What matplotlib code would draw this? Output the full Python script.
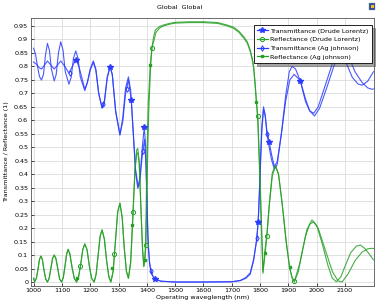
import matplotlib
matplotlib.use('Agg')
import matplotlib.pyplot as plt
from matplotlib.patches import Rectangle

# transmittance, Drude Lorentz
wl_t_dl = [1000, 1010, 1020, 1028, 1038, 1049, 1060, 1073, 1085, 1096, 1110, 1125, 1137, 1149,
           1160, 1170, 1181, 1190, 1200, 1211, 1220, 1230, 1242, 1250, 1260, 1270, 1278, 1290,
           1305, 1315, 1325, 1335, 1345, 1352, 1360, 1369, 1376, 1383, 1391, 1396, 1400, 1404,
           1409, 1414, 1420, 1430, 1450, 1500, 1600, 1700, 1730, 1750, 1765, 1777, 1787, 1793,
           1800, 1806, 1812, 1818, 1824, 1832, 1840, 1850, 1860, 1875, 1890, 1905, 1920, 1935,
           1942, 1960, 1975, 1992, 2010, 2035, 2060, 2080, 2098, 2115, 2135, 2160, 2180, 2195, 2200]
t_dl = [0.816, 0.808, 0.795, 0.790, 0.803, 0.820, 0.806, 0.790, 0.805, 0.820, 0.800, 0.775, 0.800, 0.825,
        0.800, 0.760, 0.715, 0.740, 0.785, 0.815, 0.785, 0.700, 0.645, 0.665, 0.755, 0.798, 0.770, 0.635,
        0.548, 0.595, 0.700, 0.750, 0.675, 0.550, 0.420, 0.355, 0.390, 0.490, 0.576, 0.500, 0.330, 0.170,
        0.080, 0.045, 0.025, 0.011, 0.004, 0.001, 0.001, 0.002, 0.006, 0.015, 0.030, 0.080, 0.155, 0.224,
        0.400, 0.560, 0.640, 0.615, 0.560, 0.521, 0.475, 0.430, 0.445, 0.550, 0.670, 0.750, 0.770, 0.755,
        0.746, 0.680, 0.635, 0.616, 0.645, 0.720, 0.800, 0.845, 0.855, 0.830, 0.780, 0.740, 0.720, 0.715, 0.716]

# transmittance, Ag johnson
wl_t_aj = [1000, 1007, 1014, 1021, 1028, 1035, 1042, 1049, 1056, 1063, 1073, 1080, 1088, 1096,
           1104, 1112, 1125, 1133, 1141, 1149, 1157, 1165, 1181, 1190, 1200, 1211, 1220, 1230,
           1242, 1250, 1260, 1270, 1278, 1290, 1305, 1315, 1325, 1335, 1343, 1352, 1360, 1368,
           1375, 1381, 1386, 1392, 1397, 1401, 1405, 1410, 1414, 1420, 1430, 1450, 1500, 1600,
           1700, 1730, 1750, 1765, 1777, 1789, 1795, 1800, 1806, 1812, 1818, 1824, 1832, 1840,
           1850, 1860, 1875, 1890, 1903, 1913, 1925, 1942, 1960, 1975, 1989, 2005, 2030, 2055,
           2075, 2088, 2105, 2125, 2145, 2160, 2180, 2200]
t_aj = [0.867, 0.845, 0.800, 0.762, 0.749, 0.770, 0.840, 0.885, 0.860, 0.790, 0.746, 0.770, 0.850, 0.891,
        0.860, 0.780, 0.734, 0.760, 0.830, 0.857, 0.830, 0.760, 0.710, 0.740, 0.790, 0.820, 0.790, 0.700,
        0.646, 0.670, 0.760, 0.800, 0.770, 0.630, 0.545, 0.610, 0.720, 0.761, 0.710, 0.560, 0.410, 0.348,
        0.370, 0.440, 0.487, 0.530, 0.430, 0.260, 0.130, 0.065, 0.043, 0.025, 0.012, 0.004, 0.001, 0.001,
        0.002, 0.007, 0.018, 0.035, 0.085, 0.163, 0.260, 0.420, 0.580, 0.650, 0.620, 0.549, 0.500, 0.455,
        0.420, 0.435, 0.550, 0.690, 0.780, 0.800, 0.790, 0.745, 0.670, 0.635, 0.626, 0.650, 0.730, 0.810,
        0.845, 0.850, 0.810, 0.760, 0.735, 0.730, 0.745, 0.780]

# reflectance, Drude Lorentz
wl_r_dl = [1000, 1004, 1010, 1016, 1021, 1026, 1031, 1037, 1043, 1049, 1055, 1061, 1067, 1073,
           1079, 1086, 1092, 1099, 1105, 1111, 1117, 1122, 1128, 1136, 1144, 1152, 1159, 1167,
           1174, 1181, 1189, 1197, 1205, 1214, 1221, 1228, 1235, 1242, 1250, 1258, 1266, 1273,
           1281, 1289, 1297, 1305, 1313, 1320, 1328, 1335, 1343, 1351, 1358, 1364, 1368, 1373,
           1380, 1385, 1390, 1394, 1397, 1400, 1403, 1407, 1413, 1418, 1425, 1432, 1445, 1460,
           1480, 1500, 1550, 1600, 1650, 1683, 1706, 1725, 1742, 1755, 1765, 1772, 1777, 1782,
           1787, 1792, 1800, 1806, 1810, 1816, 1824, 1833, 1843, 1854, 1865, 1878, 1892, 1904,
           1913, 1921, 1940, 1960, 1975, 1989, 2005, 2030, 2055, 2075, 2089, 2110, 2135, 2160,
           2180, 2195, 2200]
r_dl = [0.015, 0.002, 0.015, 0.050, 0.085, 0.097, 0.085, 0.045, 0.012, 0.001, 0.014, 0.050, 0.088, 0.101,
        0.088, 0.048, 0.012, 0.001, 0.017, 0.060, 0.105, 0.122, 0.106, 0.055, 0.014, 0.001, 0.020, 0.070,
        0.122, 0.142, 0.120, 0.060, 0.015, 0.001, 0.030, 0.100, 0.170, 0.194, 0.160, 0.080, 0.020, 0.001,
        0.040, 0.150, 0.260, 0.293, 0.240, 0.130, 0.040, 0.015, 0.080, 0.262, 0.410, 0.475, 0.480, 0.440,
        0.250, 0.120, 0.060, 0.090, 0.138, 0.290, 0.480, 0.640, 0.790, 0.869, 0.895, 0.925, 0.942, 0.950,
        0.956, 0.960, 0.962, 0.962, 0.959, 0.950, 0.941, 0.926, 0.905, 0.885, 0.855, 0.825, 0.795, 0.735,
        0.665, 0.615, 0.380, 0.180, 0.040, 0.090, 0.173, 0.290, 0.395, 0.430, 0.400, 0.290, 0.150, 0.055,
        0.018, 0.004, 0.070, 0.170, 0.215, 0.224, 0.200, 0.120, 0.040, 0.005, 0.001, 0.030, 0.080, 0.112,
        0.124, 0.126, 0.125]

# reflectance, Ag johnson
wl_r_aj = [1000, 1004, 1010, 1016, 1021, 1026, 1031, 1037, 1043, 1049, 1055, 1061, 1067, 1073,
           1079, 1086, 1092, 1099, 1105, 1111, 1117, 1122, 1128, 1136, 1144, 1152, 1159, 1167,
           1174, 1181, 1189, 1197, 1205, 1214, 1221, 1228, 1235, 1242, 1250, 1258, 1266, 1273,
           1281, 1289, 1297, 1305, 1313, 1320, 1328, 1335, 1343, 1351, 1358, 1364, 1368, 1373,
           1380, 1385, 1389, 1392, 1395, 1398, 1401, 1405, 1412, 1418, 1424, 1430, 1445, 1459,
           1480, 1500, 1550, 1600, 1650, 1683, 1706, 1725, 1742, 1755, 1765, 1772, 1777, 1782,
           1787, 1792, 1800, 1806, 1810, 1816, 1824, 1833, 1843, 1854, 1865, 1878, 1892, 1904,
           1913, 1921, 1935, 1950, 1965, 1983, 2000, 2020, 2040, 2055, 2069, 2085, 2100, 2120,
           2140, 2154, 2170, 2185, 2200]
r_aj = [0.015, 0.002, 0.015, 0.050, 0.085, 0.097, 0.085, 0.045, 0.012, 0.001, 0.014, 0.050, 0.088, 0.101,
        0.088, 0.048, 0.012, 0.001, 0.017, 0.060, 0.105, 0.122, 0.106, 0.055, 0.014, 0.001, 0.020, 0.070,
        0.122, 0.142, 0.120, 0.060, 0.015, 0.001, 0.030, 0.100, 0.170, 0.194, 0.160, 0.080, 0.020, 0.001,
        0.040, 0.150, 0.260, 0.293, 0.240, 0.130, 0.040, 0.015, 0.070, 0.240, 0.420, 0.490, 0.496, 0.450,
        0.250, 0.120, 0.058, 0.083, 0.138, 0.300, 0.500, 0.660, 0.806, 0.869, 0.910, 0.934, 0.948, 0.953,
        0.959, 0.963, 0.965, 0.965, 0.962, 0.953, 0.945, 0.930, 0.910, 0.890, 0.860, 0.830, 0.800, 0.740,
        0.669, 0.590, 0.350, 0.150, 0.033, 0.110, 0.180, 0.300, 0.405, 0.434, 0.400, 0.290, 0.150, 0.055,
        0.015, 0.002, 0.040, 0.120, 0.195, 0.231, 0.210, 0.140, 0.060, 0.015, 0.002, 0.020, 0.060, 0.110,
        0.134, 0.138, 0.125, 0.105, 0.083]

# marker positions (COMSOL draws a marker every few solution points)
mk_t_dl_x = [1149, 1270, 1345, 1391, 1430, 1793, 1832, 1942]
mk_t_dl_y = [0.825, 0.798, 0.675, 0.576, 0.011, 0.224, 0.521, 0.746]
mk_t_aj_x = [1128, 1246, 1330, 1386, 1414, 1789, 1824]
mk_t_aj_y = [0.777, 0.660, 0.716, 0.487, 0.043, 0.163, 0.549]
mk_r_dl_x = [1164, 1285, 1351, 1397, 1418, 1792, 1824, 1921]
mk_r_dl_y = [0.060, 0.105, 0.262, 0.138, 0.869, 0.615, 0.173, 0.004]
mk_r_aj_x = [1155, 1278, 1347, 1392, 1412, 1787, 1816, 1904]
mk_r_aj_y = [0.015, 0.052, 0.212, 0.083, 0.806, 0.669, 0.110, 0.055]

xticks = list(range(1000, 2101, 100))
yticks = [i * 0.05 for i in range(20)]
ytick_labels = ['0', '0.05', '0.1', '0.15', '0.2', '0.25', '0.3', '0.35', '0.4', '0.45',
                '0.5', '0.55', '0.6', '0.65', '0.7', '0.75', '0.8', '0.85', '0.9', '0.95']

blue = '#2b3cff'
green = '#25a025'
fs = 4.6

fig = plt.figure(figsize=(3.78, 3.0), dpi=100)
ax = fig.add_axes([0.082, 0.0477, 0.9074, 0.8923])

ax.plot(wl_t_dl, t_dl, color=blue, lw=0.8, alpha=0.85)
ax.plot(wl_r_dl, r_dl, color=green, lw=0.8, alpha=0.85)
ax.plot(wl_t_aj, t_aj, color=blue, lw=0.8, alpha=0.85)
ax.plot(wl_r_aj, r_aj, color=green, lw=0.8, alpha=0.85)

ax.plot(mk_t_dl_x, mk_t_dl_y, ls='none', marker='*', ms=4.0, color=blue)
ax.plot(mk_r_dl_x, mk_r_dl_y, ls='none', marker='o', ms=3.0, mfc='none', mec=green, mew=0.7)
ax.plot(mk_t_aj_x, mk_t_aj_y, ls='none', marker='d', ms=2.8, mfc='none', mec=blue, mew=0.7)
ax.plot(mk_r_aj_x, mk_r_aj_y, ls='none', marker='s', ms=1.7, color=green)

# legend handles
h1, = ax.plot([], [], color=blue, lw=0.9, marker='*', ms=4.0)
h2, = ax.plot([], [], color=green, lw=0.9, marker='o', ms=3.0, mfc='none', mew=0.7)
h3, = ax.plot([], [], color=blue, lw=0.9, marker='d', ms=2.8, mfc='none', mew=0.7)
h4, = ax.plot([], [], color=green, lw=0.9, marker='s', ms=1.7)
leg = ax.legend([h1, h2, h3, h4],
                ['Transmittance (Drude Lorentz)', 'Reflectance (Drude Lorentz)',
                 'Transmittance (Ag johnson)', 'Reflectance (Ag johnson)'],
                loc='upper right', bbox_to_anchor=(0.994, 0.974), fontsize=fs,
                fancybox=False, shadow=True, framealpha=1, edgecolor='black',
                handlelength=1.7, handletextpad=0.4, labelspacing=0.5, borderpad=0.5,
                borderaxespad=0)
leg.get_frame().set_linewidth(0.6)

ax.set_xlim(991, 2202)
ax.set_ylim(-0.0126, 0.979)
ax.set_xticks(xticks)
ax.set_xticklabels([str(x) for x in xticks])
ax.set_yticks(yticks)
ax.set_yticklabels(ytick_labels)
ax.tick_params(labelsize=fs, length=2, width=0.5, direction='in', pad=2)
ax.grid(True, color='#dcdcdc', lw=0.6)
ax.set_axisbelow(True)
for s in ax.spines.values():
    s.set_color('#555555')
    s.set_linewidth(0.6)

ax.set_xlabel('Operating waveglength (nm)', fontsize=fs, labelpad=1)
ax.set_ylabel('Transmittance / Reflectance (1)', fontsize=fs, labelpad=4)
fig.text(0.476, 0.975, 'Global  Global', fontsize=fs, ha='center', va='center')

# small toolbar icon in the corner
fig.patches.append(Rectangle((0.977, 0.968), 0.016, 0.022, transform=fig.transFigure,
                             facecolor='#2f4f9f', edgecolor='#888888', lw=0.3))
fig.patches.append(Rectangle((0.981, 0.972), 0.008, 0.012, transform=fig.transFigure,
                             facecolor='#f0c020', edgecolor='none'))

fig.savefig('out.png', dpi=100)
